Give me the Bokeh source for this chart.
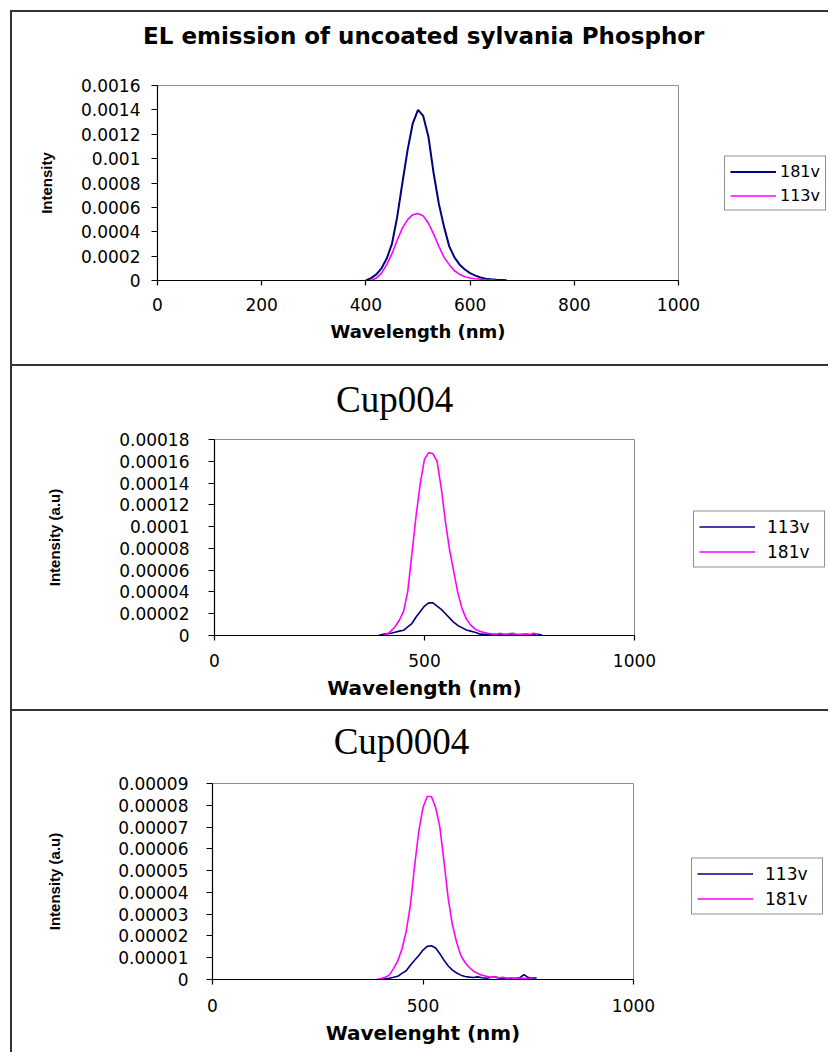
from bokeh.plotting import figure
from bokeh.models import Range1d, FixedTicker, Legend, LegendItem, LinearAxis
from bokeh.embed import file_html
from bokeh.resources import INLINE

# ---------------- Panel 1 data ----------------
p1_title = "EL emission of uncoated sylvania Phosphor"
p1_xlabel = "Wavelength (nm)"
p1_ylabel = "Intensity"
p1_x_ticks = [0, 200, 400, 600, 800, 1000]
p1_x_labels = ["0", "200", "400", "600", "800", "1000"]
p1_y_ticks = [0, 0.0002, 0.0004, 0.0006, 0.0008, 0.001, 0.0012, 0.0014, 0.0016]
p1_y_labels = ["0", "0.0002", "0.0004", "0.0006", "0.0008", "0.001", "0.0012", "0.0014", "0.0016"]
p1_series = ["181v", "113v"]
p1_wl_181 = [400, 410, 420, 430, 440, 450, 460, 470, 480, 490, 500, 510, 520, 530,
             540, 550, 560, 570, 580, 590, 600, 610, 620, 630, 640, 650, 660, 670]
p1_int_181 = [0.0, 0.00002, 0.00005, 0.0001, 0.00018, 0.0003, 0.00052, 0.0008, 0.00107,
              0.00129, 0.0014, 0.00135, 0.00118, 0.00088, 0.00063, 0.00044, 0.00028,
              0.00019, 0.00013, 0.00009, 0.00006, 0.00004, 0.000025, 0.000015, 0.00001,
              0.000006, 0.000004, 0.000002]
p1_wl_113 = [410, 420, 430, 440, 450, 460, 470, 480, 490, 500, 510, 520, 530, 540,
             550, 560, 570, 580, 590, 600, 610, 620, 630, 640, 650]
p1_int_113 = [0.0, 0.00002, 0.00006, 0.00013, 0.00022, 0.00033, 0.00043, 0.0005, 0.00054,
              0.00055, 0.00053, 0.00047, 0.00038, 0.00028, 0.00019, 0.00013, 0.00008,
              0.00005, 0.00003, 0.00002, 0.000014, 0.00001, 0.000006, 0.000003, 0.0]

# ---------------- Panel 2 data ----------------
p2_title = "Cup004"
p2_xlabel = "Wavelength (nm)"
p2_ylabel = "Intensity (a.u)"
p2_x_ticks = [0, 500, 1000]
p2_x_labels = ["0", "500", "1000"]
p2_y_ticks = [0, 0.00002, 0.00004, 0.00006, 0.00008, 0.0001, 0.00012, 0.00014, 0.00016, 0.00018]
p2_y_labels = ["0", "0.00002", "0.00004", "0.00006", "0.00008", "0.0001", "0.00012",
               "0.00014", "0.00016", "0.00018"]
p2_series = ["113v", "181v"]
p2_wl_113 = [390, 400, 410, 420, 430, 440, 450, 460, 470, 480, 490, 500, 510, 520, 530,
             540, 550, 560, 570, 580, 590, 600, 610, 620, 630, 640, 650, 660, 670, 680,
             690, 700, 710, 720, 730, 740, 750, 760, 770, 780]
p2_int_113 = [0.0, 0.000001, 0.0000015, 0.000002, 0.000003, 0.000004, 0.0000048, 0.000008,
              0.000011, 0.000017, 0.000022, 0.000027, 0.00003, 0.00003, 0.000027, 0.000024,
              0.00002, 0.000016, 0.000012, 0.000009, 0.000007, 0.000005, 0.000004, 0.000003,
              0.0000015, 0.000001, 0.000001, 0.0000005, 0.000001, 0.0000004, 0.0000008,
              0.0000005, 0.0000003, 0.0000006, 0.0000004, 0.0000009, 0.0000005, 0.0000007,
              0.0000012, 0.0000004]
p2_wl_181 = [400, 410, 420, 430, 440, 450, 460, 470, 480, 490, 500, 510, 520, 530, 540,
             550, 560, 570, 580, 590, 600, 610, 620, 630, 640, 650, 660, 670, 680, 690,
             700, 710, 720, 730, 740, 750, 760, 770]
p2_int_181 = [0.0, 0.000001, 0.000004, 0.000008, 0.000014, 0.000022, 0.00004, 0.000075,
              0.00011, 0.00014, 0.000162, 0.000168, 0.000167, 0.00016, 0.000135, 0.000104,
              0.000078, 0.000058, 0.000038, 0.000024, 0.000015, 0.0000095, 0.000006,
              0.000004, 0.000003, 0.000002, 0.0000015, 0.000001, 0.000002, 0.000001,
              0.0000015, 0.000002, 0.000001, 0.000001, 0.0000015, 0.000001, 0.000002, 0.000001]

# ---------------- Panel 3 data ----------------
p3_title = "Cup0004"
p3_xlabel = "Wavelenght (nm)"
p3_ylabel = "Intensity (a.u)"
p3_x_ticks = [0, 500, 1000]
p3_x_labels = ["0", "500", "1000"]
p3_y_ticks = [0, 0.00001, 0.00002, 0.00003, 0.00004, 0.00005, 0.00006, 0.00007, 0.00008, 0.00009]
p3_y_labels = ["0", "0.00001", "0.00002", "0.00003", "0.00004", "0.00005", "0.00006",
               "0.00007", "0.00008", "0.00009"]
p3_series = ["113v", "181v"]
p3_wl_113 = [400, 410, 420, 430, 440, 450, 460, 470, 480, 490, 500, 510, 520, 530, 540,
             550, 560, 570, 580, 590, 600, 610, 620, 630, 640, 650, 660, 670, 680, 690,
             700, 710, 720, 730, 740, 750, 760, 770]
p3_int_113 = [0.0, 0.0000003, 0.0000006, 0.000001, 0.0000015, 0.0000028, 0.000004, 0.0000065,
              0.0000088, 0.000011, 0.0000135, 0.0000152, 0.0000155, 0.0000145, 0.0000118,
              0.0000088, 0.0000062, 0.0000043, 0.000003, 0.000002, 0.0000014, 0.0000011,
              0.0000009, 0.0000012, 0.0000008, 0.0000006, 0.0000009, 0.0000012, 0.0000007,
              0.0000005, 0.0000006, 0.0000004, 0.0000005, 0.0000008, 0.0000022, 0.0000009,
              0.0000006, 0.0000008]
p3_wl_181 = [390, 400, 410, 420, 430, 440, 450, 460, 470, 480, 490, 500, 510, 520, 530,
             540, 550, 560, 570, 580, 590, 600, 610, 620, 630, 640, 650, 660, 670, 680,
             690, 700, 710, 720, 730, 740, 750, 760]
p3_int_181 = [0.0, 0.0000005, 0.000001, 0.000002, 0.000005, 0.0000085, 0.000014, 0.000022,
              0.000034, 0.000052, 0.000068, 0.000079, 0.000084, 0.000084, 0.000079, 0.00007,
              0.000054, 0.000037, 0.000025, 0.000017, 0.000011, 0.0000078, 0.0000055,
              0.0000038, 0.0000028, 0.000002, 0.0000015, 0.000001, 0.0000012, 0.0000008,
              0.000001, 0.0000005, 0.0000008, 0.0000005, 0.0000006, 0.0000005, 0.0000004,
              0.0000003]

NAVY = "#000080"
MAGENTA = "#FF00FF"
TICK_FONT = "DejaVu Sans"


def make_fig(height, mb_left, mb_right, mb_top, mb_bottom, y_max, first=False):
    p = figure(width=818, height=height, output_backend="svg", toolbar_location=None,
               x_range=Range1d(0, 1000), y_range=Range1d(0, y_max),
               min_border_left=mb_left, min_border_right=mb_right,
               min_border_top=mb_top, min_border_bottom=mb_bottom,
               background_fill_color="white", border_fill_color="white",
               outline_line_color="#8c8c8c", outline_line_width=1)
    st = {"border-left": "2px solid #333333", "border-top": "2px solid #333333",
          "margin-left": "10px"}
    if first:
        st["margin-top"] = "10px"
    p.styles = st
    p.grid.visible = False
    return p


def style_axes(p, x_ticks, x_labels, y_ticks, y_labels, xlab, ylab,
               tick_size, xlab_size, ylab_size, y_std, x_std, ylab_std, xlab_std):
    xa = p.xaxis[0]
    ya = p.yaxis[0]
    xa.ticker = FixedTicker(ticks=x_ticks)
    ya.ticker = FixedTicker(ticks=y_ticks)
    xa.major_label_overrides = dict(zip(x_ticks, x_labels))
    ya.major_label_overrides = dict(zip(y_ticks, y_labels))
    for ax in (xa, ya):
        ax.axis_line_color = "black"
        ax.axis_line_width = 1.2
        ax.major_tick_line_color = "black"
        ax.major_tick_line_width = 1.2
        ax.major_tick_in = 0
        ax.minor_tick_line_color = None
        ax.major_label_text_font = TICK_FONT
        ax.major_label_text_font_size = tick_size
        ax.major_label_text_color = "black"
        ax.axis_label_text_color = "black"
        ax.axis_label_text_font_style = "bold"
    xa.major_tick_out = 5
    ya.major_tick_out = 6
    ya.major_label_standoff = y_std
    xa.major_label_standoff = x_std
    xa.axis_label = xlab
    ya.axis_label = ylab
    xa.axis_label_text_font = "DejaVu Sans"
    xa.axis_label_text_font_size = xlab_size
    ya.axis_label_text_font = "Liberation Sans"
    ya.axis_label_text_font_size = ylab_size
    ya.axis_label_standoff = ylab_std
    xa.axis_label_standoff = xlab_std


def add_title(p, text, anchor, font, size, style, standoff):
    # chart title: the single label of a bare axis above the plot area
    ax = LinearAxis(ticker=FixedTicker(ticks=[anchor]), major_label_overrides={anchor: text},
                    axis_line_color=None, major_tick_line_color=None,
                    minor_tick_line_color=None, major_tick_in=0, major_tick_out=0,
                    major_label_standoff=standoff, major_label_text_font=font,
                    major_label_text_font_size=size, major_label_text_font_style=style,
                    major_label_text_color="black")
    p.add_layout(ax, "above")


def legend_box(left, top, w, h, entries, glyph_w, standoff, label_w, font_size):
    # the legend sits outside the plot area, so it gets its own small canvas
    lf = figure(width=w, height=h, output_backend="svg", toolbar_location=None,
                x_range=Range1d(0, 1), y_range=Range1d(0, 1),
                x_axis_type=None, y_axis_type=None, min_border=0,
                background_fill_alpha=0, border_fill_alpha=0, outline_line_color=None)
    items = []
    for label, xs, ys, color, lw in entries:
        r = lf.line(xs, ys, line_color=color, line_width=lw)
        items.append(LegendItem(label=label, renderers=[r]))
    leg = Legend(items=items, location="center_left", margin=3,
                 border_line_color="#222222", border_line_width=1.5,
                 background_fill_color="white", background_fill_alpha=1.0,
                 label_text_font=TICK_FONT, label_text_font_size=font_size,
                 label_text_color="black", label_width=label_w,
                 glyph_width=glyph_w, glyph_height=16, label_height=16,
                 label_standoff=standoff, padding=5, spacing=5)
    lf.add_layout(leg, "center")
    lf.styles = {"position": "absolute", "left": f"{left}px", "top": f"{top}px"}
    return lf


# ---------------- Panel 1 ----------------
p1 = make_fig(354, 145, 152, 73, 86, 0.0016, first=True)
style_axes(p1, p1_x_ticks, p1_x_labels, p1_y_ticks, p1_y_labels, p1_xlabel, p1_ylabel,
           "17px", "18px", "15px", 11, 12, 23, 7)
p1.line(p1_wl_181, p1_int_181, line_color=NAVY, line_width=2)
p1.line(p1_wl_113, p1_int_113, line_color=MAGENTA, line_width=1.6)
add_title(p1, p1_title, 511, "DejaVu Sans", "23px", "bold", 37)
lg1 = legend_box(721, 143, 109, 80,
                 [(p1_series[0], p1_wl_181, p1_int_181, NAVY, 2),
                  (p1_series[1], p1_wl_113, p1_int_113, MAGENTA, 1.6)],
                 46, 4, 40, "16px")

# ---------------- Panel 2 ----------------
p2 = make_fig(345, 202, 196, 73, 76, 0.00018)
style_axes(p2, p2_x_ticks, p2_x_labels, p2_y_ticks, p2_y_labels, p2_xlabel, p2_ylabel,
           "17px", "20px", "15px", 19, 13, 53, 6)
p2.line(p2_wl_113, p2_int_113, line_color=NAVY, line_width=1.6)
p2.line(p2_wl_181, p2_int_181, line_color=MAGENTA, line_width=1.6)
add_title(p2, p2_title, 429, "Liberation Serif", "37px", "normal", 20)
lg2 = legend_box(690, 499, 140, 80,
                 [(p2_series[0], p2_wl_113, p2_int_113, NAVY, 1.6),
                  (p2_series[1], p2_wl_181, p2_int_181, MAGENTA, 1.6)],
                 56, 12, 52, "17px")

# ---------------- Panel 3 ----------------
p3 = make_fig(343, 200, 197, 72, 75, 0.00009)
style_axes(p3, p3_x_ticks, p3_x_labels, p3_y_ticks, p3_y_labels, p3_xlabel, p3_ylabel,
           "17px", "20px", "15px", 18, 14, 52, 6)
p3.line(p3_wl_113, p3_int_113, line_color=NAVY, line_width=1.6)
p3.line(p3_wl_181, p3_int_181, line_color=MAGENTA, line_width=1.6)
add_title(p3, p3_title, 449, "Liberation Serif", "37px", "normal", 22)
lg3 = legend_box(688, 846, 140, 80,
                 [(p3_series[0], p3_wl_113, p3_int_113, NAVY, 1.6),
                  (p3_series[1], p3_wl_181, p3_int_181, MAGENTA, 1.6)],
                 56, 12, 52, "17px")

open("out.html", "w").write(file_html([p1, p2, p3, lg1, lg2, lg3], INLINE))
